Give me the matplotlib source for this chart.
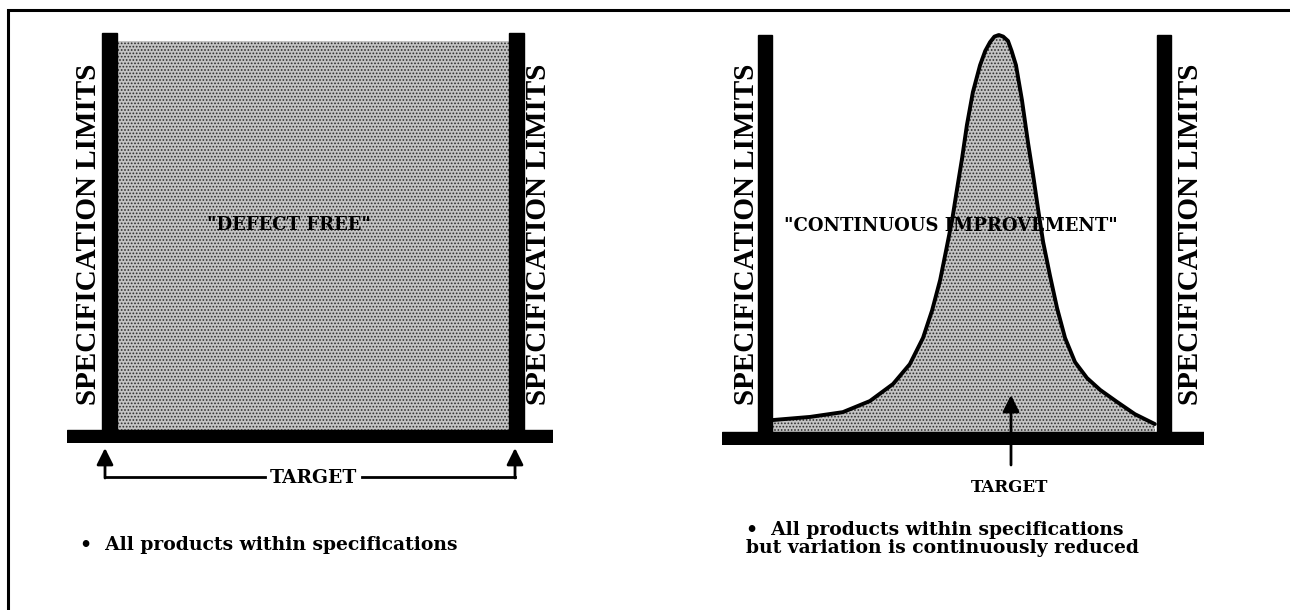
import numpy as np
import matplotlib.pyplot as plt
from matplotlib.patches import Rectangle

# Figure size in pixels
W, H = 1290, 610

# Values (x: 0 = lower spec limit, 1 = upper spec limit;
# height: 0 = baseline, 1 = top of spec-limit bars)
uniform_x = [0.0, 1.0]
uniform_h = [0.98, 0.98]

curve_x = [0.018, 0.113, 0.195, 0.263, 0.321, 0.363, 0.396, 0.419, 0.439, 0.454,
           0.469, 0.481, 0.494, 0.506, 0.521, 0.539, 0.552, 0.564, 0.575, 0.586,
           0.597, 0.609, 0.618, 0.629, 0.644, 0.659, 0.672, 0.684, 0.697, 0.714,
           0.732, 0.752, 0.777, 0.807, 0.840, 0.882, 0.927, 0.977]
curve_h = [0.030, 0.038, 0.050, 0.078, 0.121, 0.171, 0.237, 0.307, 0.383, 0.458,
           0.534, 0.610, 0.690, 0.773, 0.856, 0.924, 0.960, 0.982, 0.996, 1.000,
           0.996, 0.985, 0.960, 0.924, 0.836, 0.730, 0.647, 0.564, 0.479, 0.395,
           0.312, 0.237, 0.176, 0.136, 0.106, 0.076, 0.045, 0.020]

spec_label = 'SPECIFICATION LIMITS'
left_title = '"DEFECT FREE"'
right_title = '"CONTINUOUS IMPROVEMENT"'
left_note = '\u2022  All products within specifications'
right_note = '\u2022  All products within specifications\nbut variation is continuously reduced'

LABEL_FONT = 'Liberation Serif'
BODY_FONT = 'DejaVu Serif'
FILL = dict(facecolor='#c4c4c4', hatch='.....', edgecolor='#2e2e2e', linewidth=0)
plt.rcParams['hatch.linewidth'] = 0.8


def panel_axes(fig, x0, x1, y0, y1, lsl_px, usl_px, base_px, top_px):
    # axes placed in pixel space; data units: spec limits at 0 and 1
    ax = fig.add_axes([x0 / W, 1 - y1 / H, (x1 - x0) / W, (y1 - y0) / H])
    span = usl_px - lsl_px
    hgt = base_px - top_px
    ax.set_xlim((x0 - lsl_px) / span, (x1 - lsl_px) / span)
    ax.set_ylim((base_px - y1) / hgt, (base_px - y0) / hgt)
    ax.axis('off')
    return ax, span, hgt


def spec_bars(ax, span, hgt, bar_px):
    hw = bar_px / 2 / span
    base = 13 / hgt
    xl, xr = ax.get_xlim()
    ax.add_patch(Rectangle((xl, -base), xr - xl, base, color='black', zorder=5))
    for x in (0, 1):
        ax.add_patch(Rectangle((x - hw, 0), 2 * hw, 1.0, color='black', zorder=5))
    return hw


fig = plt.figure(figsize=(W / 100, H / 100), dpi=100)
fig.patch.set_facecolor('white')

# Left panel: uniform "defect free"
axl, span_l, hgt_l = panel_axes(fig, 67, 553, 28, 443, 109.5, 516.5, 430, 33)
hw = spec_bars(axl, span_l, hgt_l, 15)
axl.fill_between([uniform_x[0] + hw, uniform_x[1] - hw], 0, uniform_h, zorder=1, **FILL)

# Right panel: narrow distribution
axr, span_r, hgt_r = panel_axes(fig, 722, 1204, 28, 445, 765, 1164, 432, 35)
spec_bars(axr, span_r, hgt_r, 14)
axr.fill_between(curve_x, 0, curve_h, zorder=1, **FILL)
axr.plot(curve_x, curve_h, color='black', lw=2.8, solid_capstyle='round',
         solid_joinstyle='round', zorder=3)

# Overlay in pixel coordinates for frame, labels and arrows
ov = fig.add_axes([0, 0, 1, 1], zorder=10)
ov.set_xlim(0, W)
ov.set_ylim(H, 0)
ov.axis('off')
ov.patch.set_alpha(0)

ov.plot([8, 8, W], [H, 10, 10], color='black', lw=2.2, solid_joinstyle='miter')

lab = dict(family=LABEL_FONT, weight='bold', fontsize=21, rotation=90,
           ha='center', va='center')
for x in (89, 539, 746, 1190):
    ov.text(x, 234, spec_label, **lab)

ov.text(289, 225, left_title, family=BODY_FONT, weight='bold', fontsize=13,
        ha='center', va='center')
ov.text(951, 226, right_title, family=BODY_FONT, weight='bold', fontsize=13,
        ha='center', va='center')

arrow = dict(arrowstyle='-|>,head_length=1.0,head_width=0.5', color='black', lw=2,
             shrinkA=0, shrinkB=0)
# left target bracket
ov.plot([105, 265], [477, 477], color='black', lw=2)
ov.plot([362, 515], [477, 477], color='black', lw=2)
ov.annotate('', xy=(105, 448), xytext=(105, 478), arrowprops=arrow)
ov.annotate('', xy=(515, 448), xytext=(515, 478), arrowprops=arrow)
ov.text(313, 478, 'TARGET', family=BODY_FONT, weight='bold', fontsize=13.5,
        ha='center', va='center')

# right target arrow
ov.annotate('', xy=(1011, 395), xytext=(1011, 465), arrowprops=arrow)
ov.text(1010, 488, 'TARGET', family=BODY_FONT, weight='bold', fontsize=12,
        ha='center', va='center')

ov.text(80, 545, left_note, family=BODY_FONT, weight='bold', fontsize=13.5,
        ha='left', va='center')
ov.text(746, 539, right_note, family=BODY_FONT, weight='bold', fontsize=13.5,
        ha='left', va='center', linespacing=0.95)

fig.savefig('out.png', dpi=100)
